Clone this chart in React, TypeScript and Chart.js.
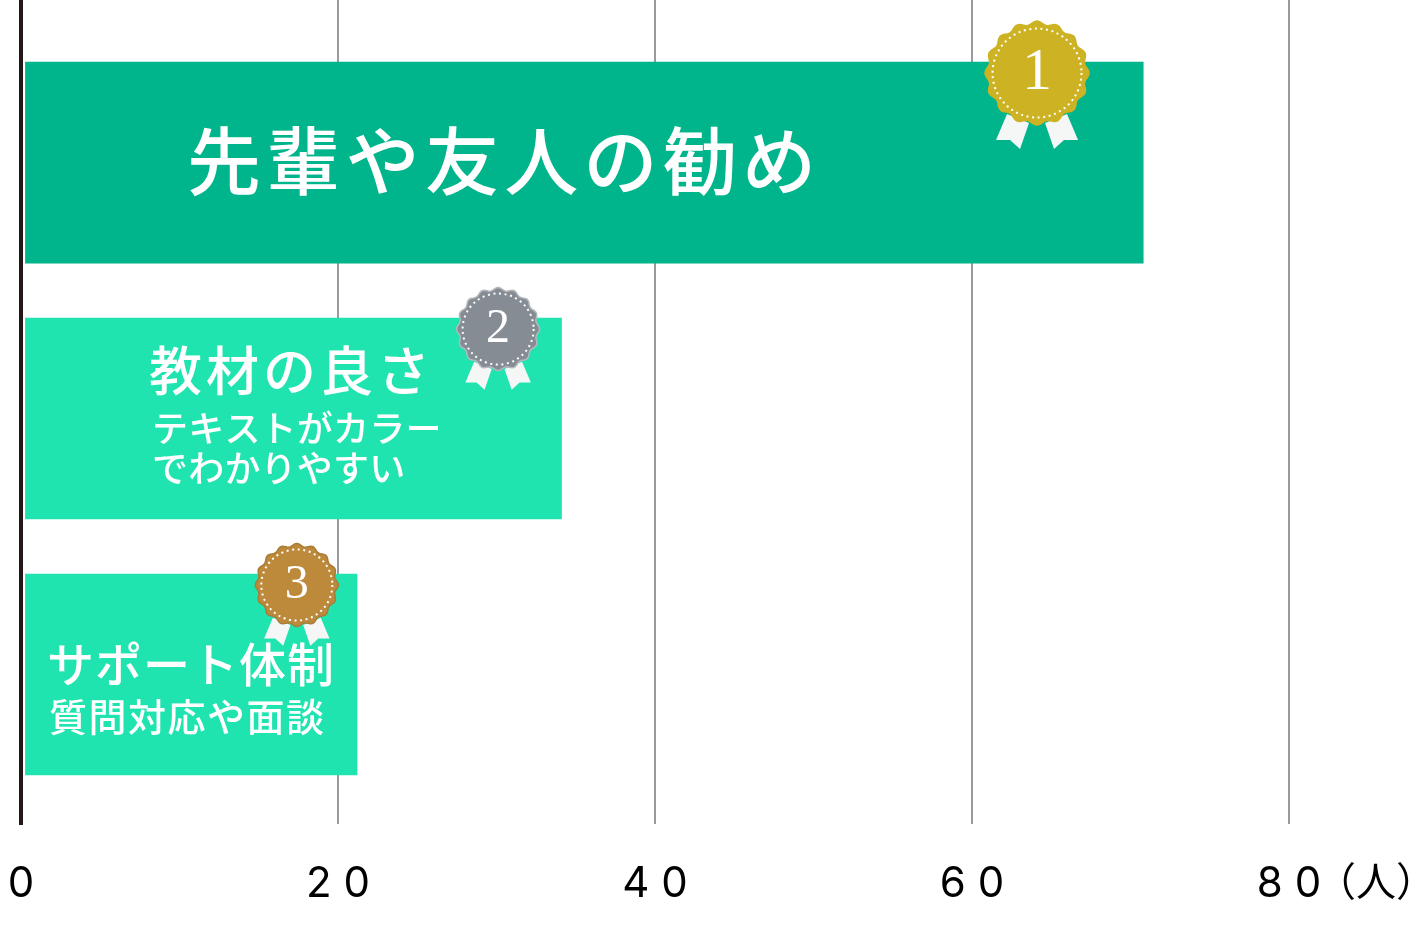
import { useEffect, useRef } from "react";
import { Chart, registerables } from "chart.js";
import type { Plugin } from "chart.js";

Chart.register(...registerables);

const ranks = [0, 1, 2];
const values = [70.8, 34.1, 21.2];
const medalValues = [64.1, 30.1, 17.4];
const tickValues = [0, 20, 40, 60, 80];
const unitLabel = "（人）";
const titles = ["先輩や友人の勧め", "教材の良さ", "サポート体制"];
const subtitles = [[], ["テキストがカラー", "でわかりやすい"], ["質問対応や面談"]];

const barColors = ["#00b48c", "#20e4b0", "#20e4b0"];
const medalColors = ["#cdb323", "#868c93", "#bd8a3c"];
const medalEdges = ["#cdb323", "#b4b8bc", "#a97c37"];
const medalRadius = [52, 41.5, 41.5];
const ribbonColor = "#f4f7f6";

const JP_FONT = '"Noto Sans CJK JP", "Noto Sans", sans-serif';

// text placement, x is absolute, y relative to the bar centre
const titleStyles = [
  { x: 187, dy: -2, size: 74, spacing: 5.3 },
  { x: 149, dy: -48, size: 53, spacing: 4 },
  { x: 47, dy: -10, size: 47, spacing: 1 },
];
const subStyles = [
  { x: 0, dy: [] as number[], spacing: 0, size: 0 },
  { x: 152, dy: [10, 50], spacing: 0.2, size: 36 },
  { x: 49, dy: [42], spacing: 1.5, size: 38 },
];

const drawMedal = (
  ctx: CanvasRenderingContext2D,
  cx: number,
  cy: number,
  r: number,
  i: number
) => {
  const k = r / 52;

  ctx.fillStyle = ribbonColor;
  for (const side of [-1, 1]) {
    ctx.beginPath();
    ctx.moveTo(cx + side * 30 * k, cy + 41 * k);
    ctx.lineTo(cx + side * 41 * k, cy + 67 * k);
    ctx.lineTo(cx + side * 27 * k, cy + 67 * k);
    ctx.lineTo(cx + side * 17 * k, cy + 76 * k);
    ctx.lineTo(cx + side * 8 * k, cy + 50 * k);
    ctx.closePath();
    ctx.fill();
  }

  // scalloped edge
  ctx.beginPath();
  for (let a = 0; a <= 360; a += 2) {
    const t = (a * Math.PI) / 180;
    const rr = r - 1.8 * k + 1.8 * k * Math.cos(16 * t);
    const px = cx + rr * Math.sin(t);
    const py = cy - rr * Math.cos(t);
    if (a === 0) ctx.moveTo(px, py);
    else ctx.lineTo(px, py);
  }
  ctx.closePath();
  ctx.fillStyle = medalColors[i];
  ctx.fill();
  ctx.strokeStyle = medalEdges[i];
  ctx.lineWidth = 1.5;
  ctx.stroke();

  ctx.beginPath();
  ctx.arc(cx, cy, 44.5 * k, 0, Math.PI * 2);
  ctx.setLineDash([2, 3.6]);
  ctx.strokeStyle = "#ffffff";
  ctx.lineWidth = 2;
  ctx.stroke();
  ctx.setLineDash([]);

  ctx.fillStyle = "#ffffff";
  ctx.font = `${i === 0 ? 60 : 48}px "Liberation Serif", serif`;
  ctx.textAlign = "center";
  ctx.textBaseline = "middle";
  ctx.fillText(String(i + 1), cx, cy);
};

const spacingPlugin: Plugin<"bar"> = {
  id: "tickSpacing",
  beforeDraw: (chart) => {
    chart.ctx.letterSpacing = "12px";
  },
  beforeDatasetsDraw: (chart) => {
    chart.ctx.letterSpacing = "12px";
  },
};

const labelsPlugin: Plugin<"bar"> = {
  id: "barLabels",
  afterDraw: (chart) => {
    const { ctx } = chart;
    const xScale = chart.scales.x;
    const yScale = chart.scales.y;

    ctx.save();
    ctx.letterSpacing = "0px";
    ctx.textBaseline = "middle";
    ctx.textAlign = "left";
    ctx.fillStyle = "#000000";
    ctx.font = `40px ${JP_FONT}`;
    ctx.fillText(unitLabel, xScale.getPixelForValue(80) + 27, 881);

    ranks.forEach((rank, i) => {
      const cy = yScale.getPixelForValue(rank);
      drawMedal(ctx, xScale.getPixelForValue(medalValues[i]), cy - 89.5, medalRadius[i], i);

      ctx.textAlign = "left";
      ctx.textBaseline = "middle";
      ctx.fillStyle = "#ffffff";
      const title = titleStyles[i];
      ctx.font = `500 ${title.size}px ${JP_FONT}`;
      ctx.letterSpacing = `${title.spacing}px`;
      ctx.fillText(titles[i], title.x, cy + title.dy);

      const sub = subStyles[i];
      ctx.letterSpacing = `${sub.spacing}px`;
      ctx.font = `500 ${sub.size}px ${JP_FONT}`;
      subtitles[i].forEach((line, j) => {
        ctx.fillText(line, sub.x, cy + sub.dy[j]);
      });
    });
    ctx.restore();
  },
};

export default function App() {
  const canvasRef = useRef<HTMLCanvasElement>(null);

  useEffect(() => {
    if (!canvasRef.current) return;

    const chart = new Chart(canvasRef.current, {
      type: "bar",
      data: {
        datasets: [
          {
            data: ranks.map((rank, i) => ({ x: values[i], y: rank })) as any,
            backgroundColor: barColors,
            barThickness: 201,
            base: 0.28,
          },
        ],
      },
      options: {
        indexAxis: "y",
        responsive: false,
        animation: false,
        layout: { padding: { left: 21, right: 0, top: 0, bottom: 0 } },
        scales: {
          x: {
            type: "linear",
            min: 0,
            max: 87.82,
            afterBuildTicks: (axis) => {
              axis.ticks = tickValues.map((value) => ({ value }));
            },
            afterFit: (axis) => {
              axis.paddingLeft = 0;
              axis.paddingRight = 0;
              axis.height = 114;
            },
            grid: { color: "#999999", lineWidth: 2, drawTicks: false },
            border: { display: false },
            ticks: {
              autoSkip: false,
              maxRotation: 0,
              padding: 35,
              labelOffset: 6,
              color: "#000000",
              font: { size: 42, family: 'Inter, "Noto Sans", sans-serif' },
            },
          },
          y: {
            type: "linear",
            reverse: true,
            offset: false,
            min: -0.635,
            max: 2.584,
            afterFit: (axis) => {
              axis.width = 0;
            },
            grid: { display: false, drawTicks: false },
            border: { color: "#231815", width: 4, z: 1 },
            ticks: { display: false },
          },
        },
        plugins: {
          legend: { display: false },
          tooltip: { enabled: false },
        },
      },
      plugins: [spacingPlugin, labelsPlugin],
    });

    return () => {
      chart.destroy();
    };
  }, []);

  return (
    <canvas
      ref={canvasRef}
      width={1413}
      height={938}
      style={{ position: "absolute", left: 0, top: 0 }}
    />
  );
}
